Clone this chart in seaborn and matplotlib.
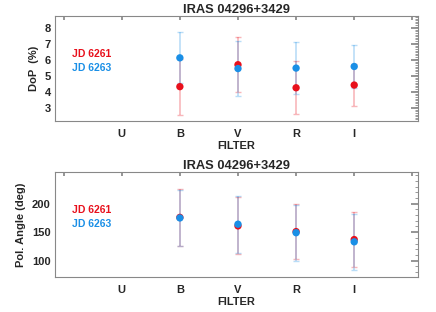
"""
IRAS 04296+3429 - DoP si unghi de polarizare per filtru.
"""
import numpy as np
import pandas as pd
import matplotlib
matplotlib.use("Agg")
import matplotlib.pyplot as plt
from matplotlib.ticker import MultipleLocator, FixedLocator
import seaborn as sns

sns.set_theme(style="white")
plt.rcParams["font.family"] = ["Liberation Sans", "DejaVu Sans"]
plt.rcParams["font.weight"] = "bold"

# Date
tick_labels = ["", "U", "B", "V", "R", "I", ""]
filters = ["B", "V", "R", "I"]

dop_6261 = [4.35, 5.72, 4.28, 4.45]
dop_6261_err = [1.75, 1.72, 1.65, 1.31]
dop_6263 = [6.15, 5.48, 5.51, 5.61]
dop_6263_err = [1.60, 1.74, 1.62, 1.32]

pa_6261 = [176, 161, 151, 137]
pa_6261_err = [50, 50, 49, 49]
pa_6263 = [175, 164, 149, 133]
pa_6263_err = [50, 50, 49, 49]

RED = "#E8101C"
BLUE = "#1A8FE6"
TITLE = "IRAS 04296+3429"


def make_df(v1, e1, v2, e2):
    rows = []
    for f, a, ea, b, eb in zip(filters, v1, e1, v2, e2):
        x = tick_labels.index(f)
        rows.append({"x": x, "val": a, "err": ea, "jd": "JD 6261"})
        rows.append({"x": x, "val": b, "err": eb, "jd": "JD 6263"})
    return pd.DataFrame(rows)


def draw_panel(ax, df, ylabel, ylim, majors, minor):
    palette = {"JD 6261": RED, "JD 6263": BLUE}
    for jd, g in df.groupby("jd"):
        ax.errorbar(g["x"], g["val"], yerr=g["err"], fmt="none",
                    ecolor=palette[jd], alpha=0.3, elinewidth=1.2,
                    capsize=2.5, capthick=1.0)
    sns.scatterplot(data=df, x="x", y="val", hue="jd", palette=palette,
                    s=28, edgecolor="none", legend=False, ax=ax, zorder=3)

    ax.set_xlim(-0.15, 6.1)
    ax.set_ylim(*ylim)
    ax.set_xticks(range(len(tick_labels)))
    ax.set_xticklabels(tick_labels, fontsize=8, fontweight="bold")
    ax.yaxis.set_major_locator(FixedLocator(majors))
    ax.yaxis.set_minor_locator(MultipleLocator(minor))
    for lbl in ax.get_yticklabels():
        lbl.set_fontsize(8)
        lbl.set_fontweight("bold")
    ax.tick_params(axis="both", which="both", direction="in", top=True,
                   right=True, color="#888888")
    ax.tick_params(axis="y", which="major", length=5, pad=3)
    ax.tick_params(axis="y", which="minor", length=2.5, width=0.6)
    ax.tick_params(axis="x", which="major", length=3, pad=6)
    for sp in ax.spines.values():
        sp.set_color("#888888")
        sp.set_linewidth(0.8)

    ax.set_xlabel("FILTER", fontsize=8, fontweight="bold", labelpad=1)
    ax.set_ylabel(ylabel, fontsize=8, fontweight="bold", labelpad=4)
    ax.set_title(TITLE, fontsize=9.3, fontweight="bold", pad=2)

    ax.text(0.048, 0.64, "JD 6261", color=RED, fontsize=7.5, fontweight="bold",
            transform=ax.transAxes, va="center")
    ax.text(0.048, 0.50, "JD 6263", color=BLUE, fontsize=7.5, fontweight="bold",
            transform=ax.transAxes, va="center")


fig = plt.figure(figsize=(4.36, 3.12), dpi=100)
ax1 = fig.add_axes([0.126, 0.612, 0.833, 0.337])
ax2 = fig.add_axes([0.126, 0.112, 0.833, 0.337])

draw_panel(ax1, make_df(dop_6261, dop_6261_err, dop_6263, dop_6263_err),
           "DoP  (%)", (2.2, 8.77), [3, 4, 5, 6, 7, 8], 0.1)
draw_panel(ax2, make_df(pa_6261, pa_6261_err, pa_6263, pa_6263_err),
           "Pol. Angle (deg)", (71, 256), [100, 150, 200], 10)

fig.savefig("out.png", dpi=100)
